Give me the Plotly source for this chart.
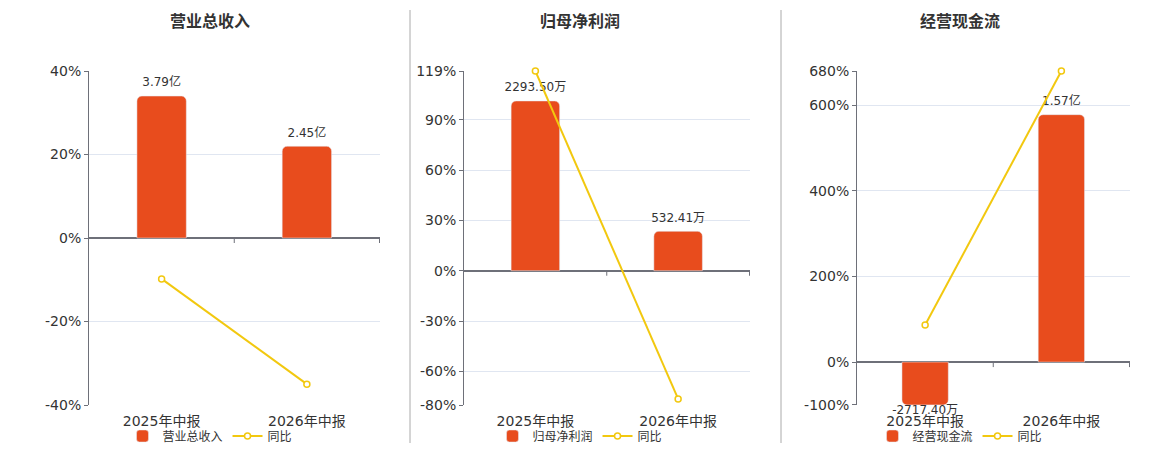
import plotly.graph_objects as go

# data
periods = ["2025年中报", "2026年中报"]

titles = ["营业总收入", "归母净利润", "经营现金流"]

revenue = [3.79, 2.45]            # 亿
revenue_text = ["3.79亿", "2.45亿"]
revenue_yoy = [-9.8, -35.0]       # %

profit = [0.229350, 0.053241]     # 亿
profit_text = ["2293.50万", "532.41万"]
profit_yoy = [119.0, -76.4]

cash = [-0.271740, 1.57]          # 亿
cash_text = ["-2717.40万", "1.57亿"]
cash_yoy = [86.5, 680.0]

pct_ranges = [(-40, 40), (-80, 119), (-100, 680)]
pct_ticks = [
    [-40, -20, 0, 20, 40],
    [-80, -60, -30, 0, 30, 60, 90, 119],
    [-100, 0, 200, 400, 600, 680],
]

BAR_COLOR = "#e84c1d"
LINE_COLOR = "#f2c80f"
AXIS_COLOR = "#6e7079"
GRID_COLOR = "#e0e6f1"
FONT = "DejaVu Sans, Noto Sans CJK SC"

W, H = 1160, 450
OFF = 8  # page body margin


def px(x):
    return (x - OFF) / W


def py(y):
    return (H - (y - OFF)) / H


x_domains = [(89, 380), (464, 750), (857, 1130)]
centers = [210, 580, 960]
y_domain = [py(405), py(71)]

fig = go.Figure()

panels = [
    (revenue, revenue_text, revenue_yoy),
    (profit, profit_text, profit_yoy),
    (cash, cash_text, cash_yoy),
]

layout = {}
shapes = []
annotations = []
for i, (bars, texts, yoy) in enumerate(panels):
    n = i + 1
    xa = "x" if n == 1 else f"x{n}"
    ya_bar = "y" if n == 1 else f"y{n}"
    ya_pct = f"y{n + 3}"
    legend = "legend" if n == 1 else f"legend{n}"

    fig.add_trace(go.Bar(
        x=periods, y=bars, name=titles[i],
        marker=dict(color=BAR_COLOR, cornerradius=5),
        xaxis=xa, yaxis=ya_bar, legend=legend,
    ))
    # value labels above positive bars, below negative ones
    fig.add_trace(go.Scatter(
        x=periods, y=bars, text=texts, mode="markers+text",
        textposition=["bottom center" if v < 0 else "top center" for v in bars],
        marker=dict(size=[0 if v < 0 else 9 for v in bars],
                    color="rgba(0,0,0,0)", line=dict(width=0)),
        textfont=dict(size=12, color="#333333"),
        cliponaxis=False, showlegend=False, hoverinfo="skip",
        xaxis=xa, yaxis=ya_bar,
    ))
    fig.add_trace(go.Scatter(
        x=periods, y=yoy, name="同比", mode="lines+markers",
        line=dict(color=LINE_COLOR, width=2),
        marker=dict(color="white", size=6, line=dict(color=LINE_COLOR, width=1.5)),
        cliponaxis=False,
        xaxis=xa, yaxis=ya_pct, legend=legend,
    ))

    # bar axis: largest bar at 85% of positive side, zero aligned with pct axis
    lo, hi = pct_ranges[i]
    top = max(abs(b) for b in bars) / 0.85
    lo = min(lo, min(bars) / top * hi * 1.002)
    bar_range = [top * lo / hi, top]

    xd = x_domains[i]
    layout[xa.replace("x", "xaxis")] = dict(
        domain=[px(xd[0]), px(xd[1])], anchor=ya_pct,
        showline=False, showgrid=False, ticks="", ticklabelstandoff=6,
        tickfont=dict(size=14, color="#333333"),
    )
    layout[ya_bar.replace("y", "yaxis")] = dict(
        domain=y_domain, anchor=xa, range=bar_range,
        visible=False, showgrid=False, zeroline=False,
    )
    layout[ya_pct.replace("y", "yaxis")] = dict(
        domain=y_domain, anchor=xa, overlaying=ya_bar, side="left",
        range=[lo, hi], tickmode="array", tickvals=pct_ticks[i],
        ticktext=[f"{v}%" for v in pct_ticks[i]],
        showline=True, linecolor=AXIS_COLOR, linewidth=1,
        ticks="outside", ticklen=4, tickcolor=AXIS_COLOR,
        showgrid=True, gridcolor=GRID_COLOR,
        zeroline=True, zerolinecolor=AXIS_COLOR, zerolinewidth=2,
        tickfont=dict(size=14, color="#333333"),
    )
    layout[legend] = dict(
        orientation="h", x=px(centers[i]), xanchor="center",
        y=py(436), yanchor="middle",
        font=dict(size=12, color="#333333"), bgcolor="rgba(0,0,0,0)",
    )
    annotations.append(dict(
        text=f"<b>{titles[i]}</b>", x=px(centers[i]), y=py(22),
        xref="paper", yref="paper", xanchor="center", yanchor="middle",
        showarrow=False, font=dict(size=16, color="#333333"),
    ))
    # small category boundary ticks on the zero line
    for xb in [0.5, 1.5]:
        shapes.append(dict(
            type="line", xref=xa, yref=ya_pct, x0=xb, x1=xb,
            ysizemode="pixel", yanchor=0, y0=0, y1=-5,
            line=dict(color=AXIS_COLOR, width=1),
        ))

# panel separators
for xs in [410, 781]:
    shapes.append(dict(
        type="line", xref="paper", yref="paper",
        x0=px(xs), x1=px(xs), y0=py(443), y1=py(10),
        line=dict(color="#aaaaaa", width=1),
    ))

fig.update_layout(
    **layout,
    width=W, height=H,
    margin=dict(l=0, r=0, t=0, b=0, autoexpand=False),
    paper_bgcolor="white", plot_bgcolor="white",
    font=dict(family=FONT, color="#333333"),
    bargap=0.66,
    shapes=shapes,
    annotations=annotations,
)

fig.write_html("out.html")
